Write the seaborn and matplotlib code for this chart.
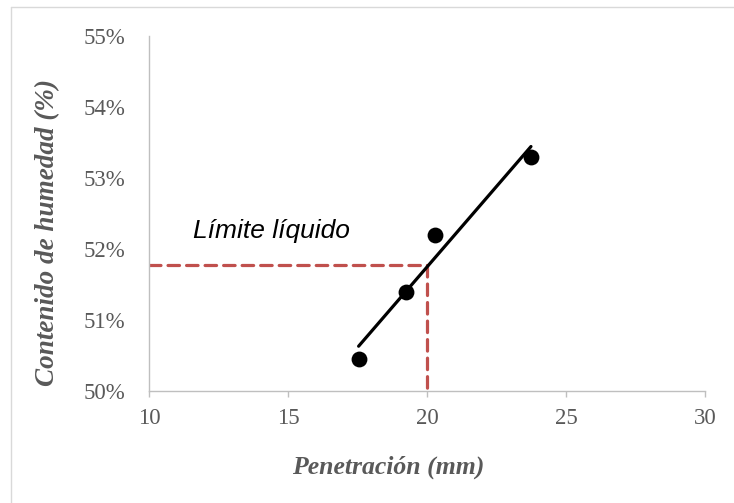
import matplotlib
matplotlib.use("Agg")
import matplotlib.pyplot as plt
import matplotlib.ticker as mticker
import seaborn as sns
import pandas as pd
from matplotlib.lines import Line2D

# Data
penetracion = [17.54, 19.23, 20.29, 23.74]          # mm
humedad = [50.45, 51.40, 52.20, 53.30]              # %
limite_x = 20.0
limite_y = 51.78
x_ticks = [10, 15, 20, 25, 30]
y_ticks = [50, 51, 52, 53, 54, 55]

df = pd.DataFrame({"Penetración": penetracion, "Humedad": humedad})

sns.set_style("white")
plt.rcParams["font.family"] = ["Liberation Serif", "DejaVu Serif"]

W, H = 734, 503
L, R, T, B = 149, 705, 36, 391
fig = plt.figure(figsize=(W / 100, H / 100), dpi=100)
ax = fig.add_axes([L / W, 1 - B / H, (R - L) / W, (B - T) / H])

gray = "#595959"
spine_c = "#BFBFBF"
red = "#C0504D"

# dashed guide lines (Límite líquido)
ax.plot([x_ticks[0], limite_x], [limite_y, limite_y], color=red, lw=2.3,
        dashes=(3.6, 2.2), dash_capstyle="round", zorder=2)
ax.plot([limite_x, limite_x], [limite_y, y_ticks[0]], color=red, lw=2.3,
        dashes=(3.6, 2.2), dash_capstyle="round", zorder=2)

sns.scatterplot(data=df, x="Penetración", y="Humedad", ax=ax, s=130,
                color="black", edgecolor="black", linewidth=0, zorder=3)
sns.regplot(data=df, x="Penetración", y="Humedad", ax=ax, scatter=False, ci=None,
            truncate=True, line_kws=dict(color="black", lw=2.3, zorder=4))

ax.set_xlim(x_ticks[0], x_ticks[-1])
ax.set_ylim(y_ticks[0], y_ticks[-1])
ax.set_xticks(x_ticks)
ax.set_yticks(y_ticks)
ax.yaxis.set_major_formatter(mticker.FuncFormatter(lambda v, p: f"{v:.0f}%"))

for s in ["top", "right"]:
    ax.spines[s].set_visible(False)
for s in ["left", "bottom"]:
    ax.spines[s].set_color(spine_c)
    ax.spines[s].set_linewidth(1.0)

ax.tick_params(axis="x", direction="out", length=4, width=1.0, color=spine_c,
               labelsize=16.5, labelcolor=gray, pad=8)
ax.tick_params(axis="y", length=0, labelsize=16.5, labelcolor=gray, pad=17)
ax.tick_params(bottom=True, left=False)

ax.set_xlabel("Penetración (mm)", fontsize=18.5, fontweight="bold", fontstyle="italic",
              color=gray, va="center", ha="center")
ax.xaxis.set_label_coords((388 - L) / (R - L), (B - 467) / (B - T))
ax.set_ylabel("Contenido de humedad (%)", fontsize=19.5, fontweight="bold",
              fontstyle="italic", color=gray, va="center", ha="center")
ax.yaxis.set_label_coords((48 - L) / (R - L), (B - 233) / (B - T))

ax.text((193 - L) / (R - L), (B - 238) / (B - T), "Límite líquido",
        transform=ax.transAxes, fontsize=19, fontstyle="italic",
        family=["Liberation Sans", "DejaVu Sans"], color="black",
        ha="left", va="baseline")

# chart-area border (left & top visible)
fig.add_artist(Line2D([11 / W, 11 / W], [0, 1 - 7 / H], transform=fig.transFigure,
                      color="#D9D9D9", lw=1.0))
fig.add_artist(Line2D([11 / W, 1], [1 - 7 / H, 1 - 7 / H], transform=fig.transFigure,
                      color="#D9D9D9", lw=1.0))

fig.savefig("out.png", dpi=100)
